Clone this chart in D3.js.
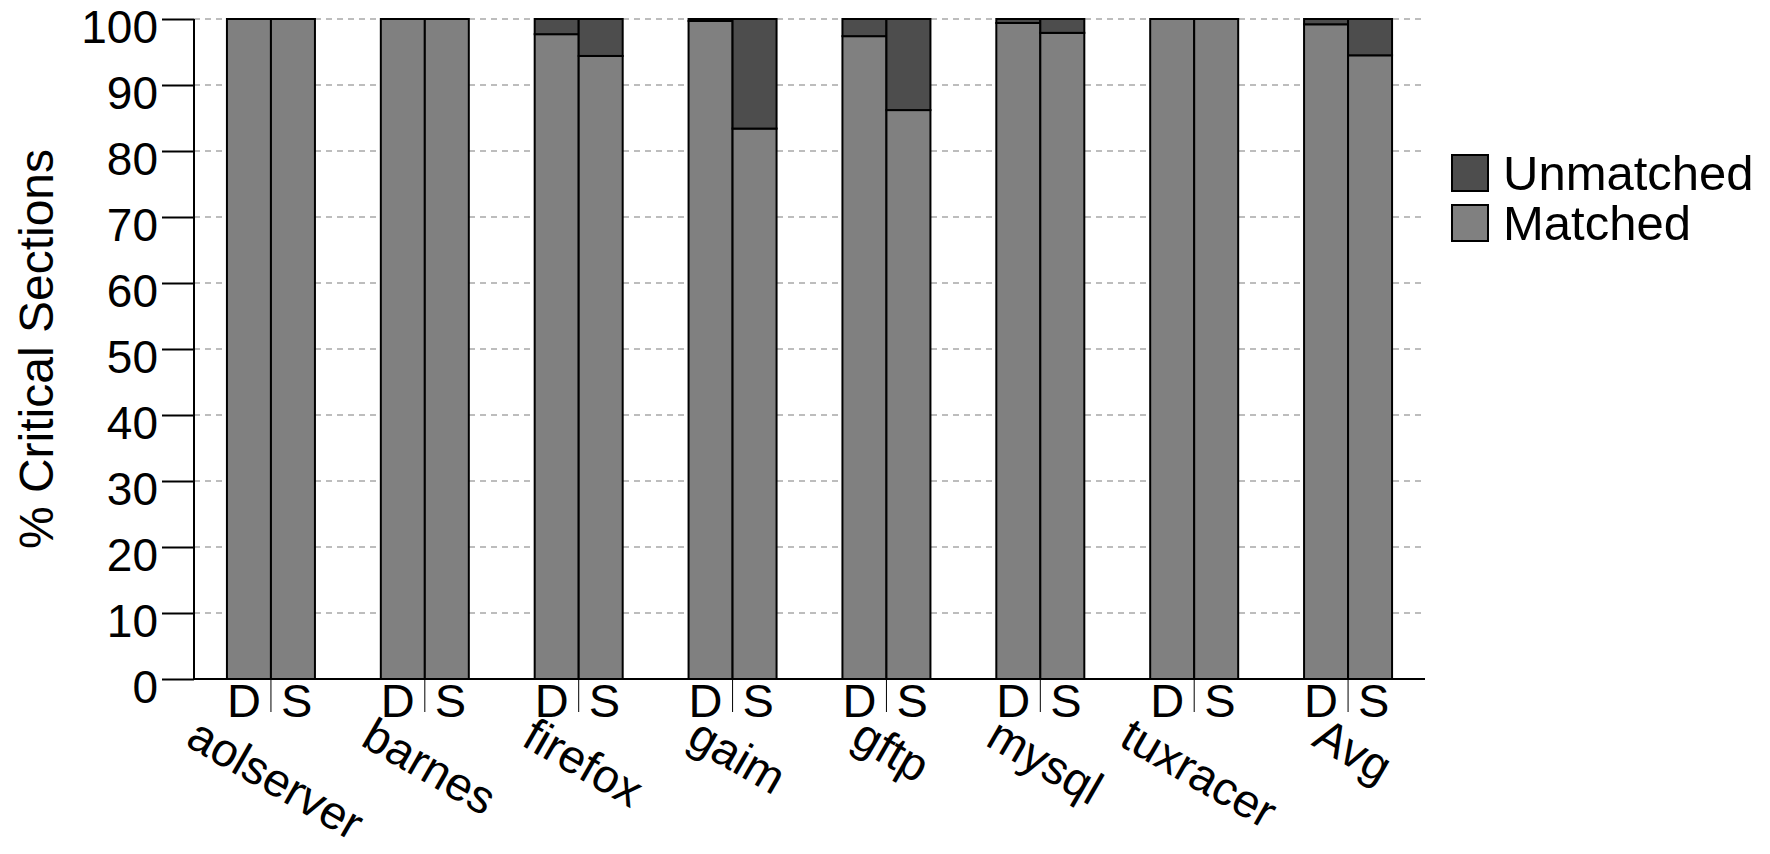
<!DOCTYPE html>
<html lang="en">
  <head>
    <meta charset="UTF-8" />
    <title>Critical sections matched / unmatched</title>
    <style>
      body { margin: 0; background: #fff; }
      svg { display: block; }
      text { font-family: "Liberation Sans", Arial, Helvetica, sans-serif; fill: #000; }
      .grid line { stroke: #bdbdbd; stroke-width: 2; stroke-dasharray: 6, 5; }
      .bar { stroke: #000; stroke-width: 2; }
    </style>
  </head>
  <body>
    <svg width="1770" height="854"></svg>
    <script src="https://d3js.org/d3.v7.min.js"></script>
    <script>
      const categories = ["aolserver", "barnes", "firefox", "gaim", "gftp", "mysql", "tuxracer", "Avg"];
      const variants = ["D", "S"];
      const matchedD = [100, 100, 97.7, 99.7, 97.4, 99.4, 100, 99.2];
      const unmatchedD = [0, 0, 2.3, 0.3, 2.6, 0.6, 0, 0.8];
      const matchedS = [100, 100, 94.4, 83.4, 86.2, 97.9, 100, 94.5];
      const unmatchedS = [0, 0, 5.6, 16.6, 13.8, 2.1, 0, 5.5];
      const yTicks = [0, 10, 20, 30, 40, 50, 60, 70, 80, 90, 100];
      const seriesNames = ["Unmatched", "Matched"];
      const colors = { Matched: "#808080", Unmatched: "#4d4d4d" };

      const svg = d3.select("svg");
      const plotL = 194, plotR = 1425, plotT = 19, plotB = 679;

      const x = d3.scaleBand().domain(categories).range([plotL, plotR]);
      const barW = 44;
      const xi = d3.scaleBand().domain(variants).range([0, barW * 2]);
      const y = d3.scaleLinear().domain([0, 100]).range([plotB, plotT]);

      // rows: one per category x variant
      const rows = [];
      categories.forEach((c, i) => {
        rows.push({ cat: c, v: "D", Matched: matchedD[i], Unmatched: unmatchedD[i] });
        rows.push({ cat: c, v: "S", Matched: matchedS[i], Unmatched: unmatchedS[i] });
      });
      const barX = (d) => x(d.cat) + x.bandwidth() / 2 - barW + xi(d.v);

      // grid
      svg.append("g").attr("class", "grid")
        .selectAll("line").data(yTicks.filter((t) => t > 0)).enter().append("line")
        .attr("x1", plotL).attr("x2", plotR)
        .attr("y1", (d) => y(d)).attr("y2", (d) => y(d));

      // stacked bars
      const stack = d3.stack().keys(["Matched", "Unmatched"]);
      const layers = stack(rows);
      svg.append("g").selectAll("g").data(layers).enter().append("g")
        .attr("fill", (d) => colors[d.key])
        .selectAll("rect").data((d) => d.filter((p) => p[1] - p[0] > 0)).enter().append("rect")
        .attr("class", "bar")
        .attr("x", (p) => barX(p.data))
        .attr("width", barW)
        .attr("y", (p) => y(p[1]))
        .attr("height", (p) => y(p[0]) - y(p[1]));

      // y axis
      const yAxis = d3.axisLeft(y).tickValues(yTicks).tickSize(32).tickPadding(4);
      const gy = svg.append("g").attr("transform", `translate(${plotL},0)`).call(yAxis);
      gy.select(".domain").remove();
      gy.selectAll(".tick line").attr("stroke", "#000").attr("stroke-width", 2);
      gy.selectAll(".tick text").attr("font-size", 46).attr("dy", "0.52em")
        .attr("font-family", "'Liberation Sans', Arial, sans-serif");
      svg.append("line").attr("x1", plotL).attr("x2", plotL).attr("y1", plotT).attr("y2", plotB)
        .attr("stroke", "#000").attr("stroke-width", 2);
      svg.append("line").attr("x1", plotL).attr("x2", plotR).attr("y1", plotB).attr("y2", plotB)
        .attr("stroke", "#000").attr("stroke-width", 2);

      // D|S labels and separators
      const sub = svg.append("g").selectAll("g").data(categories).enter().append("g")
        .attr("transform", (c) => `translate(${x(c) + x.bandwidth() / 2},0)`);
      sub.append("line").attr("y1", plotB).attr("y2", plotB + 33)
        .attr("stroke", "#000").attr("stroke-width", 1);
      sub.append("text").attr("x", -10).attr("y", 717).attr("text-anchor", "end")
        .attr("font-size", 47).text("D");
      sub.append("text").attr("x", 10).attr("y", 717).attr("text-anchor", "start")
        .attr("font-size", 47).text("S");

      // rotated category labels, centred on the group, top of rotated box aligned
      const labTop = 710, fs = 47, ang = 30 * Math.PI / 180;
      svg.append("g").selectAll("text").data(categories).enter().append("text")
        .attr("font-size", fs)
        .attr("text-anchor", "middle")
        .attr("dy", "0.35em")
        .text((c) => c)
        .attr("transform", function (c) {
          const w = this.getComputedTextLength();
          const cy = labTop + (w * Math.sin(ang) + fs * Math.cos(ang)) / 2;
          return `translate(${x(c) + x.bandwidth() / 2 + 5},${cy}) rotate(30)`;
        });

      // y title
      svg.append("text")
        .attr("transform", `translate(53,${(plotT + plotB) / 2}) rotate(-90)`)
        .attr("text-anchor", "middle")
        .attr("font-size", 48)
        .text("% Critical Sections");

      // legend
      const leg = svg.append("g").selectAll("g").data(seriesNames).enter().append("g")
        .attr("transform", (d, i) => `translate(1452,${155 + i * 50})`);
      leg.append("rect").attr("width", 36).attr("height", 36)
        .attr("fill", (d) => colors[d]).attr("stroke", "#000").attr("stroke-width", 2);
      leg.append("text").attr("x", 51).attr("y", 35).attr("font-size", 49).text((d) => d);
    </script>
  </body>
</html>
